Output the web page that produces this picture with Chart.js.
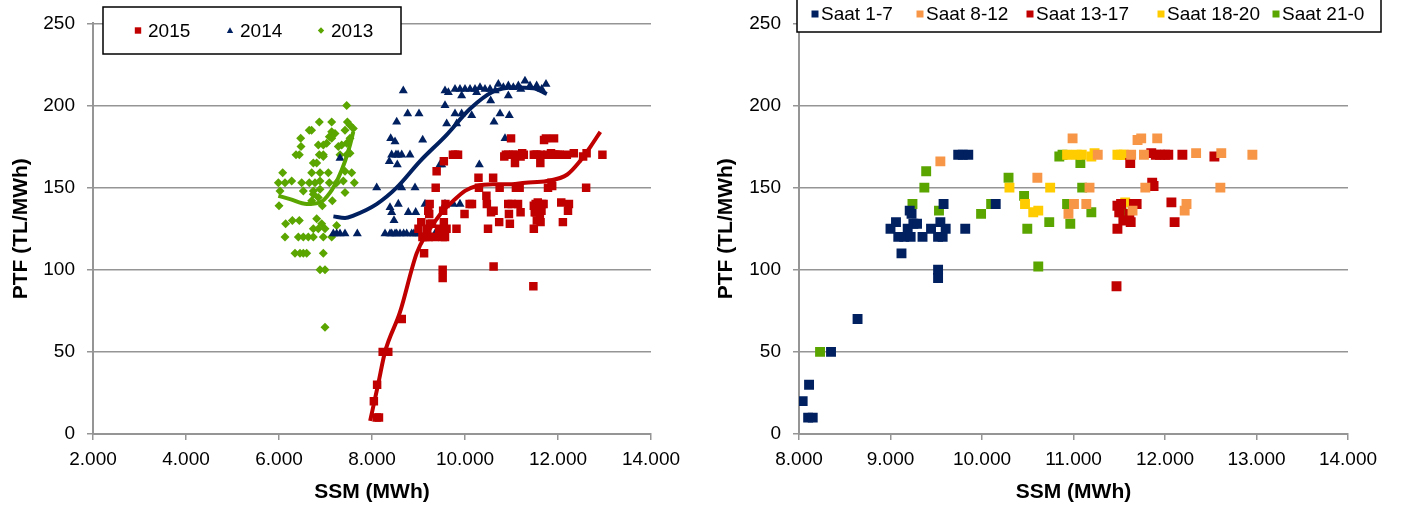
<!DOCTYPE html>
<html>
<head>
<meta charset="utf-8">
<script src="https://cdn.jsdelivr.net/npm/chart.js@4.4.1/dist/chart.umd.min.js"></script>
<style>
  body { margin: 0; background: #fff; width: 1410px; height: 511px; overflow: hidden; position: relative; }
  canvas { position: absolute; top: 0; }
  #left { left: 0; }
  #right { left: 705px; }
</style>
</head>
<body>
<canvas id="left" width="705" height="511"></canvas>
<canvas id="right" width="705" height="511"></canvas>
<script>
// axis ticks
const yTickValues = [0, 50, 100, 150, 200, 250];
const yTickLabels = ['0', '50', '100', '150', '200', '250'];
const leftXValues = [2000, 4000, 6000, 8000, 10000, 12000, 14000];
const leftXLabels = ['2.000', '4.000', '6.000', '8.000', '10.000', '12.000', '14.000'];
const rightXValues = [8000, 9000, 10000, 11000, 12000, 13000, 14000];
const rightXLabels = ['8.000', '9.000', '10.000', '11.000', '12.000', '13.000', '14.000'];

// 2015 by hour group (right chart)
const hourGroups = ['Saat 1-7', 'Saat 8-12', 'Saat 13-17', 'Saat 18-20', 'Saat 21-0'];
const ssmSaat1 = [8040, 8110, 8100, 8150, 8350, 8640, 9000, 9060, 9085, 9150, 9220, 9120, 9188, 9210, 9230, 9250, 9290, 9350, 9443, 9520, 9520, 9545, 9520, 9570, 9580, 9603, 9740, 9790, 9850, 9817, 10150];
const ptfSaat1 = [20, 30, 10, 10, 50, 70, 125, 129, 120, 120, 120, 110, 125, 136, 134, 128, 128, 120, 125, 100, 95, 129, 120, 120, 140, 125, 170, 170, 170, 125, 140];
const ssmSaat8 = [9545, 10605, 10990, 11700, 11740, 11915, 11265, 11630, 11770, 12340, 12615, 12955, 11175, 11785, 12605, 11005, 10945, 11140, 11645, 12235, 12215];
const ptfSaat8 = [166, 156, 180, 179, 180, 180, 170, 170, 170, 171, 171, 170, 150, 150, 150, 140, 134, 140, 136, 140, 136];
const ssmSaat13 = [11850, 11900, 11945, 12000, 12036, 12190, 12540, 11620, 11860, 11875, 11480, 11520, 11500, 11545, 11480, 11610, 11625, 11660, 11690, 12070, 12105, 11470];
const ptfSaat13 = [171, 170, 170, 170, 170, 170, 169, 165, 153, 151, 139, 140, 135, 130, 125, 134, 129, 140, 140, 141, 129, 90];
const ssmSaat18 = [10300, 10470, 10560, 10615, 10745, 10930, 11035, 11090, 11195, 11230, 11480, 11520, 11550, 11565];
const ptfSaat18 = [150, 140, 135, 136, 150, 170, 170, 170, 169, 171, 170, 170, 170, 141];
const ssmSaat21 = [8230, 9240, 9370, 9390, 9530, 9990, 10100, 10290, 10460, 10495, 10615, 10735, 10845, 10880, 10930, 10965, 11075, 11095, 11195, 11525];
const ptfSaat21 = [50, 140, 150, 160, 136, 134, 140, 156, 145, 125, 102, 129, 169, 170, 140, 128, 165, 150, 135, 135];

// 2015 in the left chart is the same set of hours
const ssm2015 = [].concat(ssmSaat1, ssmSaat8, ssmSaat13, ssmSaat18, ssmSaat21);
const ptf2015 = [].concat(ptfSaat1, ptfSaat8, ptfSaat13, ptfSaat18, ptfSaat21);

const ssm2014 = [7168, 7240, 7312, 7419, 7684, 7312, 8101,
  8280, 8387, 8423, 8495, 8530, 8602, 8680, 8746, 8854, 8900, 8961, 9032, 9355,
  8387, 8566, 8423, 8473, 8781, 8939, 9140, 9570, 9749, 9892, 8638, 8925,
  8372, 8544, 9500, 9462, 10308, 8423, 8516, 8560, 8639, 8817,
  8402, 8495, 9090, 10860, 8531, 9606, 9821, 10624,
  8767, 9011, 9785, 9928, 10144, 10753, 10953, 9570, 10552,
  8673, 9570, 9642, 9785, 9892, 10000, 10108, 10215, 10323, 10430, 10538,
  9928, 10717, 10825, 10932, 11039, 11147, 11290, 11398, 11541, 11742,
  10932, 11200, 11650, 10250, 10650];
const ptf2014 = [122, 122, 122, 122, 122, 168, 150,
  122, 122, 122, 122, 122, 122, 122, 122, 122, 122, 122, 122, 122,
  138, 140, 135, 130, 135, 135, 140, 140, 140, 140, 150, 150,
  166, 164, 164, 164, 164, 170, 170, 170, 170, 170,
  180, 178, 179, 180, 190, 189, 189, 190,
  195, 195, 195, 195, 194, 195, 194, 200, 203,
  209, 209, 208, 210, 210, 210, 210, 210, 211, 210, 210,
  206, 213, 211, 212, 211, 212, 215, 212, 212, 213,
  206, 210, 210, 208, 209];

const ssm2013 = [7456, 6867, 7133, 6650, 6700, 7470, 7527, 7598, 7419,
  7133, 7204, 7082, 7133, 7026, 6953, 6466, 6845, 6473, 6437, 6366, 6867, 6953,
  7276, 7348, 7456, 7527, 7312, 7456, 7527, 6738, 6810, 6953,
  6079, 6703, 6882, 7061, 7419, 7563,
  5986, 6129, 6273, 6488, 6652, 6774, 6882, 7082, 7240, 7383, 7620,
  6022, 6523, 6738, 6882, 7419, 6000, 6703, 6932, 7147, 6846, 6738,
  6143, 6287, 6437, 6810, 6918, 6738, 6846, 6989, 7133, 7240,
  6129, 6416, 6523, 6631, 6738, 6953,
  6344, 6452, 6523, 6595, 6953, 6882, 6989, 6989];
const ptf2013 = [200, 190, 190, 185, 185, 190, 188, 186, 185,
  184, 183, 181, 180, 177, 176, 180, 176, 175, 170, 170, 170, 170,
  175, 176, 177, 180, 170, 170, 171, 165, 165, 169,
  159, 159, 159, 159, 160, 159,
  153, 153, 154, 153, 153, 153, 154, 153, 153, 154, 153,
  148, 148, 148, 149, 147, 139, 142, 139, 142, 144, 146,
  128, 130, 130, 131, 128, 125, 125, 125, 120, 127,
  120, 120, 120, 120, 120, 120,
  110, 110, 110, 110, 110, 100, 100, 65];

// trend lines
const trend2015X = [7960, 8130, 8280, 8600, 8960, 9175, 9320, 9530, 9750, 10000, 10250, 10600, 10900, 11300, 11760, 12200, 12470, 12700, 12910];
const trend2015Y = [8, 30, 50, 74, 110, 122, 128, 136, 142, 148, 151, 152, 152, 153, 154, 158, 166, 175, 184];
const trend2014X = [7170, 7420, 7600, 8100, 8530, 9030, 9600, 10110, 10610, 11040, 11470, 11760];
const trend2014Y = [132.5, 131.5, 133, 140, 150, 166, 182, 198, 208.5, 211, 210.5, 207];
const trend2013X = [5986, 6237, 6595, 6882, 7097, 7276, 7419, 7527, 7598];
const trend2013Y = [145, 143, 140, 141, 147, 156, 166, 176, 184];

const FONT = '"Liberation Sans", Arial, sans-serif';
const GRID = '#959595';
const RED = '#c00000', NAVY = '#002060', GREEN = '#5aa500', ORANGE = '#f79646', YELLOW = '#ffcc00';

function pts(xs, ys) {
  return xs.map((x, i) => ({ x: x, y: ys[i] }));
}

function marker(ctx, style, x, y, r, color) {
  ctx.fillStyle = color;
  ctx.beginPath();
  if (style === 'rect') {
    ctx.rect(x - r, y - r, 2 * r, 2 * r);
  } else if (style === 'triangle') {
    ctx.moveTo(x, y - r);
    ctx.lineTo(x + r, y + r * 0.8);
    ctx.lineTo(x - r, y + r * 0.8);
  } else {
    ctx.moveTo(x, y - r);
    ctx.lineTo(x + r, y);
    ctx.lineTo(x, y + r);
    ctx.lineTo(x - r, y);
  }
  ctx.closePath();
  ctx.fill();
}

// legend box drawn on top of the plot, like the original
const boxLegend = {
  id: 'boxLegend',
  afterDraw(chart, args, opts) {
    const ctx = chart.ctx;
    const b = opts.box;
    ctx.save();
    ctx.fillStyle = '#fff';
    ctx.fillRect(b[0], b[1], b[2], b[3]);
    ctx.strokeStyle = '#000';
    ctx.lineWidth = 1.5;
    ctx.strokeRect(b[0], b[1], b[2], b[3]);
    ctx.font = opts.size + 'px ' + FONT;
    ctx.textBaseline = 'middle';
    ctx.textAlign = 'left';
    const items = chart.data.datasets.filter(d => !d.showLine);
    items.forEach((d, i) => {
      const mx = opts.markerX[i];
      marker(ctx, d.pointStyle, mx, opts.y, opts.r, d.backgroundColor);
      ctx.fillStyle = '#000';
      ctx.fillText(d.label, mx + opts.gap, opts.y + 1);
    });
    ctx.restore();
  }
};

function yAxis(width) {
  return {
    type: 'linear', min: 0, max: 250,
    afterFit: s => { s.width = width; },
    ticks: { stepSize: 50, color: '#000', font: { family: FONT, size: 19 }, padding: 12,
      callback: v => yTickLabels[yTickValues.indexOf(v)] },
    grid: { color: GRID, lineWidth: 1.5, tickLength: 6 },
    border: { color: GRID, width: 2 },
    title: { display: true, text: 'PTF (TL/MWh)', color: '#000',
      font: { family: FONT, size: 21, weight: 'bold' }, padding: { top: 9, bottom: 0 } }
  };
}

function xAxis(min, max, step, values, labels) {
  return {
    type: 'linear', min: min, max: max,
    afterFit: s => { s.height = 77; },
    ticks: { stepSize: step, color: '#000', font: { family: FONT, size: 19 }, padding: 8,
      maxRotation: 0, autoSkip: false, callback: v => labels[values.indexOf(v)] },
    grid: { drawOnChartArea: false, color: GRID, lineWidth: 1.5, tickLength: 6 },
    border: { color: GRID, width: 2 },
    title: { display: true, text: 'SSM (MWh)', color: '#000',
      font: { family: FONT, size: 21, weight: 'bold' }, padding: { top: 0, bottom: 6 } }
  };
}

function trend(label, xs, ys, color) {
  return { label: label, data: pts(xs, ys), showLine: true, borderColor: color, borderWidth: 4,
    pointRadius: 0, cubicInterpolationMode: 'monotone', order: 0 };
}

function series(label, xs, ys, color, style, r, order) {
  return { label: label, data: pts(xs, ys), showLine: false, pointStyle: style, pointRadius: r,
    pointHoverRadius: r, backgroundColor: color, borderColor: color, borderWidth: 0, order: order };
}

new Chart(document.getElementById('left'), {
  type: 'scatter',
  data: {
    datasets: [
      series('2015', ssm2015, ptf2015, RED, 'rect', 6, 1),
      series('2014', ssm2014, ptf2014, NAVY, 'triangle', 5.2, 2),
      series('2013', ssm2013, ptf2013, GREEN, 'rectRot', 4.5, 3),
      trend('2015 trend', trend2015X, trend2015Y, RED),
      trend('2014 trend', trend2014X, trend2014Y, NAVY),
      trend('2013 trend', trend2013X, trend2013Y, GREEN)
    ]
  },
  options: {
    responsive: false,
    animation: false,
    layout: { padding: { left: 0, right: 54, top: 21.5, bottom: 0 } },
    scales: {
      x: xAxis(2000, 14000, 2000, leftXValues, leftXLabels),
      y: yAxis(93)
    },
    plugins: {
      legend: { display: false },
      tooltip: { enabled: false },
      boxLegend: { box: [103, 7, 298, 47], markerX: [138, 230, 321], y: 30.5, r: 3.2, gap: 10, size: 19 }
    }
  },
  plugins: [boxLegend]
});

new Chart(document.getElementById('right'), {
  type: 'scatter',
  data: {
    datasets: [
      series(hourGroups[0], ssmSaat1, ptfSaat1, NAVY, 'rect', 7, 1),
      series(hourGroups[1], ssmSaat8, ptfSaat8, ORANGE, 'rect', 7, 2),
      series(hourGroups[2], ssmSaat13, ptfSaat13, RED, 'rect', 7, 3),
      series(hourGroups[3], ssmSaat18, ptfSaat18, YELLOW, 'rect', 7, 4),
      series(hourGroups[4], ssmSaat21, ptfSaat21, GREEN, 'rect', 7, 5)
    ]
  },
  options: {
    responsive: false,
    animation: false,
    layout: { padding: { left: 0, right: 62, top: 21.5, bottom: 0 } },
    scales: {
      x: xAxis(8000, 14000, 1000, rightXValues, rightXLabels),
      y: yAxis(94)
    },
    plugins: {
      legend: { display: false },
      tooltip: { enabled: false },
      boxLegend: { box: [92, -2, 584, 34], markerX: [110, 215, 325, 456, 571], y: 14, r: 3.5, gap: 6, size: 19 }
    }
  },
  plugins: [boxLegend]
});
</script>
</body>
</html>
